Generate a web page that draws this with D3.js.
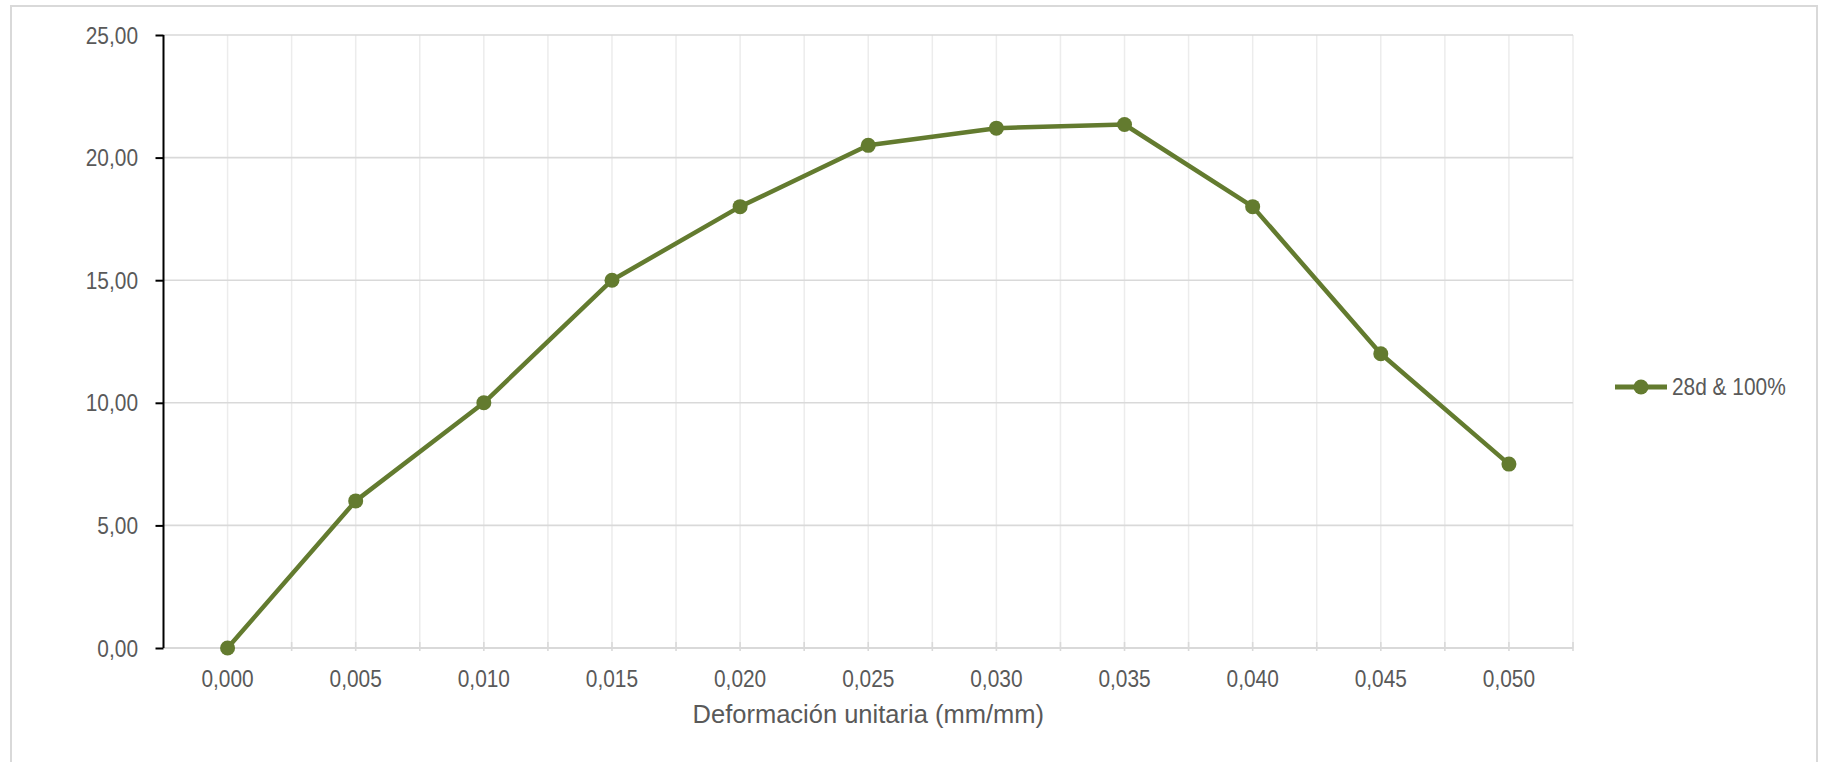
<!DOCTYPE html>
<html>
<head>
<meta charset="utf-8">
<script src="https://cdn.jsdelivr.net/npm/d3@7"></script>
<style>
  html, body { margin: 0; padding: 0; background: #fff; }
  svg { display: block; }
  text { font-family: "Liberation Sans", Arial, sans-serif; fill: #595959; }
</style>
</head>
<body>
<svg id="chart" width="1822" height="762"></svg>
<script>
// ---- data ----
const categories = ["0,000","0,005","0,010","0,015","0,020","0,025","0,030","0,035","0,040","0,045","0,050"];
const values = [0, 6.0, 10.0, 15.0, 18.0, 20.5, 21.2, 21.35, 18.0, 12.0, 7.5];
const seriesName = "28d & 100%";
const yTicks = [0, 5, 10, 15, 20, 25];
const xTitle = "Deformación unitaria (mm/mm)";

// ---- layout ----
const W = 1822, H = 762;
const plot = { left: 163.5, right: 1573, top: 35, bottom: 648 };
const color = "#637B2F";
const narrow = 0.87;

const svg = d3.select("#chart");

// frame
svg.append("rect")
  .attr("x", 11).attr("y", 6).attr("width", 1806).attr("height", 780)
  .attr("fill", "#fff").attr("stroke", "#d9d9d9").attr("stroke-width", 2);

const x = d3.scaleBand().domain(categories).range([plot.left, plot.right]).padding(0);
const bw = x.bandwidth();
const y = d3.scaleLinear().domain([0, 25]).range([plot.bottom, plot.top]);

const loc = d3.formatLocale({ decimal: ",", thousands: ".", grouping: [3], currency: ["", "€"] });
const fmtY = loc.format(".2f");

// vertical gridlines at band edges and centers
const vx = [];
categories.forEach(c => { vx.push(x(c)); vx.push(x(c) + bw / 2); });
vx.push(plot.right);
svg.append("g").selectAll("line").data(vx.slice(1)).join("line")
  .attr("x1", d => d).attr("x2", d => d)
  .attr("y1", plot.top).attr("y2", plot.bottom)
  .attr("stroke", "#ececec").attr("stroke-width", 1.5);

// horizontal gridlines
svg.append("g").selectAll("line").data(yTicks.filter(t => t > 0)).join("line")
  .attr("x1", plot.left).attr("x2", plot.right)
  .attr("y1", d => y(d)).attr("y2", d => y(d))
  .attr("stroke", "#d9d9d9").attr("stroke-width", 1.6);

// x axis line + ticks
svg.append("line")
  .attr("x1", plot.left).attr("x2", plot.right)
  .attr("y1", y(0)).attr("y2", y(0))
  .attr("stroke", "#d9d9d9").attr("stroke-width", 2);
svg.append("g").selectAll("line").data(vx.slice(1)).join("line")
  .attr("x1", d => d).attr("x2", d => d)
  .attr("y1", y(0) - 6).attr("y2", y(0) + 3)
  .attr("stroke", "#d9d9d9").attr("stroke-width", 1.6);

// x labels
const xl = svg.append("g").selectAll("g").data(categories).join("g")
  .attr("transform", d => `translate(${x(d) + bw / 2},687) scale(${narrow},1)`);
xl.append("text").attr("text-anchor", "middle").attr("font-size", 24).text(d => d);

// y axis
const yAxis = d3.axisLeft(y).tickValues(yTicks).tickSize(8).tickFormat("");
const ya = svg.append("g").attr("transform", `translate(${plot.left},0)`).call(yAxis);
ya.select(".domain").attr("stroke", "#000").attr("stroke-width", 2).attr("d", `M0,${plot.top}V${plot.bottom}`);
ya.selectAll(".tick line").attr("stroke", "#000").attr("stroke-width", 2);

const yl = svg.append("g").selectAll("g").data(yTicks).join("g")
  .attr("transform", d => `translate(138,${y(d) + 8.5}) scale(${narrow},1)`);
yl.append("text").attr("text-anchor", "end").attr("font-size", 24).text(d => fmtY(d));

// axis title
svg.append("text")
  .attr("x", (plot.left + plot.right) / 2).attr("y", 723)
  .attr("text-anchor", "middle").attr("font-size", 25.5)
  .text(xTitle);

// series line
const pts = categories.map((c, i) => [x(c) + bw / 2, y(values[i])]);
svg.append("path")
  .attr("d", d3.line()(pts))
  .attr("fill", "none").attr("stroke", color).attr("stroke-width", 4.5)
  .attr("stroke-linejoin", "round");
svg.append("g").selectAll("circle").data(pts).join("circle")
  .attr("cx", d => d[0]).attr("cy", d => d[1]).attr("r", 7.5)
  .attr("fill", color);

// legend
const lg = svg.append("g");
lg.append("line").attr("x1", 1615).attr("x2", 1667).attr("y1", 387).attr("y2", 387)
  .attr("stroke", color).attr("stroke-width", 5);
lg.append("circle").attr("cx", 1641).attr("cy", 387).attr("r", 7.5).attr("fill", color);
lg.append("g").attr("transform", `translate(1672,395) scale(${narrow},1)`)
  .append("text").attr("font-size", 24).text(seriesName);
</script>
</body>
</html>
